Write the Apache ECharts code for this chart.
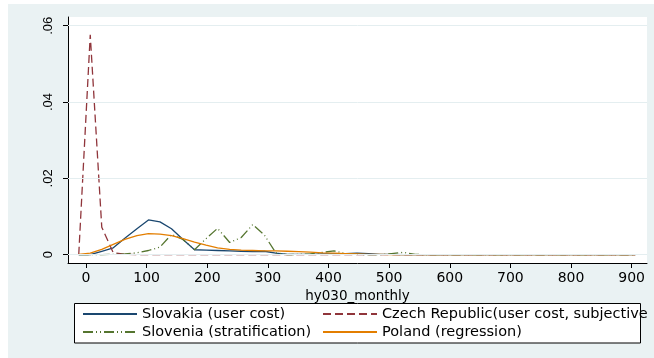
<!DOCTYPE html>
<html><head><meta charset="utf-8">
<script src="https://cdn.jsdelivr.net/npm/echarts@6/dist/echarts.min.js"></script>
<style>
html,body{margin:0;padding:0;background:#fff;}
#bg{position:absolute;left:8px;top:4px;width:646px;height:354px;background:#eaf2f3;}
#chart{position:absolute;left:0;top:0;width:654px;height:358px;}
</style></head><body>
<div id="bg"></div><div id="chart"></div>
<script>
const hy030 = [-12, 7, 26, 45, 64, 84, 103, 122, 141, 160, 179, 198, 217, 237, 256, 275, 294, 313, 332, 351, 370, 390, 409, 428, 447, 466, 485, 504, 523, 543, 562, 581, 600, 619, 638, 657, 676, 696, 715, 734, 753, 772, 791, 810, 829, 849, 868, 887, 906];
const slovakia = [0, 0, 0.0009, 0.0018, 0.0043, 0.0068, 0.0091, 0.0086, 0.0068, 0.0040, 0.0013, 0.0012, 0.0011, 0.0010, 0.0009, 0.0008, 0.0009, 0.0004, 0.0001, 0.0001, 0.0001, 0.0002, 0.0002, 0.0003, 0.0004, 0.0003, 0.0001, 0.0001, 0, 0, 0, 0, 0, 0, 0, 0, 0, 0, 0, 0, 0, 0, 0, 0, 0, 0, 0, 0, 0];
const czech = [0, 0.0576, 0.0072, 0.0005, 0.0001, 0, 0, 0, 0, 0, 0, 0, 0, 0, 0, 0, 0, 0, 0, 0, 0, 0, 0, 0, 0, 0, 0, 0, 0, 0, 0, 0, 0, 0, 0, 0, 0, 0, 0, 0, 0, 0, 0, 0, 0, 0, 0, 0, 0];
const slovenia = [0, 0, 0, 0.0001, 0.0002, 0.0005, 0.0011, 0.0020, 0.0053, 0.0040, 0.0013, 0.0042, 0.0069, 0.0032, 0.0045, 0.0079, 0.0052, 0.0005, 0, 0.0001, 0.0002, 0.0006, 0.0010, 0.0003, 0.0001, 0, 0, 0.0003, 0.0006, 0.0001, 0, 0, 0, 0, 0, 0, 0, 0, 0, 0, 0, 0, 0, 0, 0, 0, 0, 0, 0];
const poland = [0.0001, 0.0004, 0.0014, 0.0027, 0.0040, 0.0050, 0.0055, 0.0054, 0.0050, 0.0042, 0.0033, 0.0025, 0.0018, 0.0014, 0.0012, 0.0011, 0.0010, 0.0010, 0.0009, 0.0008, 0.0007, 0.0005, 0.0004, 0.0003, 0.0002, 0.0001, 0.0001, 0, 0, 0, 0, 0, 0, 0, 0, 0, 0, 0, 0, 0, 0, 0, 0, 0, 0, 0, 0, 0, 0];
const seriesNames = ['Slovakia (user cost)', 'Czech Republic(user cost, subjective', 'Slovenia (stratification)', 'Poland (regression)'];
const xTicks = [0, 100, 200, 300, 400, 500, 600, 700, 800, 900];
const yTicks = [0, 0.02, 0.04, 0.06];
const yTickLabels = ['0', '.02', '.04', '.06'];
const xTitle = 'hy030_monthly';

const pairs = arr => hy030.map((x, i) => [x, arr[i]]);
const chart = echarts.init(document.getElementById('chart'), null, {renderer: 'canvas'});
const lineSeries = (name, arr, color, type, z) => ({
  name, type: 'line', data: pairs(arr), symbol: 'none', showSymbol: false, z,
  lineStyle: {color, width: 1.3, type}, itemStyle: {color}, animation: false
});
chart.setOption({
  animation: false,
  backgroundColor: 'transparent',
  grid: {left: 68, top: 17, right: 7, bottom: 95, show: true, backgroundColor: '#ffffff', borderWidth: 0},
  xAxis: {
    type: 'value', min: -29.7, max: 925.3,
    axisLine: {onZero: false, lineStyle: {color: '#000', width: 1}},
    axisTick: {show: true, length: 5, customValues: xTicks, lineStyle: {color: '#000'}},
    axisLabel: {customValues: xTicks, margin: 8, color: '#000', fontFamily: 'DejaVu Sans', fontSize: 14},
    splitLine: {show: false},
    name: xTitle, nameLocation: 'middle', nameGap: 21,
    nameTextStyle: {color: '#000', fontFamily: 'DejaVu Sans', fontSize: 13.5}
  },
  yAxis: {
    type: 'value', min: -0.002175, max: 0.06228,
    axisLine: {show: true, onZero: false, lineStyle: {color: '#000', width: 1}},
    axisTick: {show: true, length: 5, customValues: yTicks, lineStyle: {color: '#000'}},
    axisLabel: {customValues: yTicks, rotate: 90, margin: 13, color: '#000', fontFamily: 'Liberation Sans', fontSize: 13,
      formatter: v => { const i = yTicks.findIndex(t => Math.abs(t - v) < 1e-9); return i >= 0 ? yTickLabels[i] : ''; }},
    splitLine: {show: false}
  },
  graphic: {elements: [{type: 'rect', z: 1, silent: true,
    shape: {x: 74.5, y: 303.5, width: 566, height: 39.5},
    style: {fill: '#ffffff', stroke: '#000000', lineWidth: 1}}]},
  legend: {
    data: seriesNames, left: 82, top: 305, width: 570, orient: 'horizontal', z: 10,
    padding: 0, itemGap: 0, itemWidth: 54, itemHeight: 18,
    itemStyle: {opacity: 0},
    textStyle: {color: '#000', fontFamily: 'DejaVu Sans', fontSize: 14.5, width: 180, overflow: 'none', lineHeight: 18},
    selectedMode: false
  },
  series: [
    {name: 'grid', type: 'line', data: [], z: 1, silent: true,
     markLine: {silent: true, symbol: ['none', 'none'], label: {show: false}, animation: false,
       lineStyle: {color: '#e4eef0', width: 1, type: 'solid'},
       data: yTicks.map(v => ({yAxis: v}))}},
    lineSeries(seriesNames[0], slovakia, '#1a476f', 'solid', 3),
    lineSeries(seriesNames[1], czech, '#90353b', [8, 4], 3),
    lineSeries(seriesNames[2], slovenia, '#55752f', [10, 3, 1, 3, 1, 3], 3),
    lineSeries(seriesNames[3], poland, '#e37e00', 'solid', 3)
  ]
});
</script></body></html>
